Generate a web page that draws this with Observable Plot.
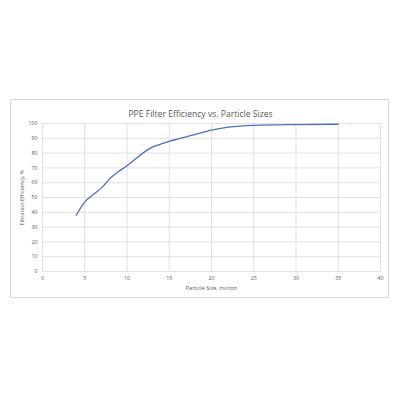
<!DOCTYPE html>
<html>
<head>
<meta charset="utf-8">
<script src="https://cdn.jsdelivr.net/npm/d3@7"></script>
<script src="https://cdn.jsdelivr.net/npm/@observablehq/plot@0.6"></script>
<style>
  html, body { margin: 0; padding: 0; background: #fff; }
  #chart { position: relative; width: 400px; height: 400px; }
  #box { position: absolute; left: 10px; top: 99px; width: 379px; height: 199px; border: 1px solid #d9d9d9; box-sizing: border-box; }
  #chart svg { position: absolute; left: 0; top: 0; }
</style>
</head>
<body>
<div id="chart"><div id="box"></div></div>
<script>
const title = "PPE Filter Efficiency vs. Particle Sizes";
const xLabel = "Particle Size, micron";
const yLabel = "Filtration Efficiency, %";
const particleSize = [4, 5, 6, 7, 8, 9, 10, 11, 12, 13, 14, 15, 16, 17, 18, 19, 20, 22, 25, 30, 35];
const efficiency = [38, 47, 52, 56.5, 63, 67.5, 71.5, 76, 80.5, 84, 86, 88, 89.5, 91, 92.5, 94, 95.5, 97.5, 98.8, 99.3, 99.5];
const xTicks = [0, 5, 10, 15, 20, 25, 30, 35, 40];
const yTicks = [0, 10, 20, 30, 40, 50, 60, 70, 80, 90, 100];

const data = particleSize.map((x, i) => ({x, y: efficiency[i]}));
const font = "'Open Sans', 'Liberation Sans', sans-serif";

const chart = Plot.plot({
  width: 400,
  height: 400,
  marginLeft: 42,
  marginRight: 20,
  marginTop: 123,
  marginBottom: 129,
  style: {fontFamily: font, fontSize: "5.3px", color: "#595959", background: "transparent"},
  x: {domain: [0, 40], ticks: xTicks, label: null},
  y: {domain: [0, 100], ticks: yTicks, label: null},
  marks: [
    Plot.gridX(xTicks, {stroke: "#d9d9d9", strokeOpacity: 1, strokeWidth: 0.8}),
    Plot.gridY(yTicks, {stroke: "#d9d9d9", strokeOpacity: 1, strokeWidth: 0.8}),
    Plot.axisX(xTicks, {tickSize: 0, tickPadding: 5, fill: "#595959"}),
    Plot.axisY(yTicks, {tickSize: 0, tickPadding: 5, fill: "#595959"}),
    Plot.line(data, {x: "x", y: "y", stroke: "#4a72b8", strokeWidth: 1.3, curve: "monotone-x"}),
    Plot.text([title], {frameAnchor: "top", dx: -11, dy: -13, fontSize: 8.6, fill: "#595959", fontFamily: font}),
    Plot.text([xLabel], {frameAnchor: "bottom", dy: 18, fontSize: 5.5, fill: "#595959", fontFamily: font}),
    Plot.text([yLabel], {frameAnchor: "left", dx: -20, rotate: -90, textAnchor: "middle", fontSize: 5.5, fill: "#595959", fontFamily: font})
  ]
});
document.getElementById("chart").appendChild(chart);
</script>
</body>
</html>
